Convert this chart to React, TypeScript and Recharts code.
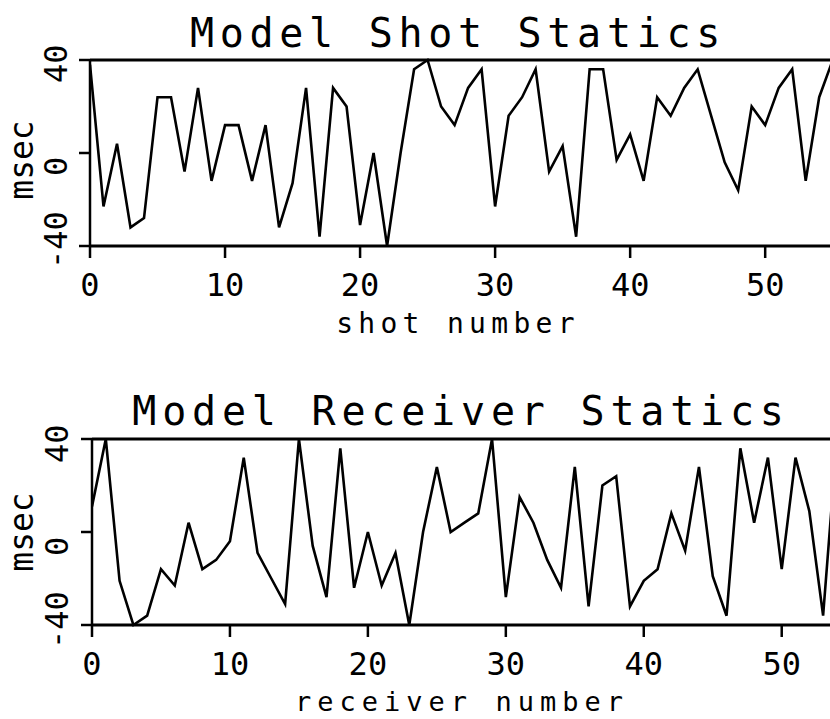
import React from 'react';
import { Line, LineChart, ReferenceLine, XAxis, YAxis } from 'recharts';

// values, one per shot / receiver, starting at 0
const shotStatics = [
  38, -23, 4, -32, -28, 24, 24, -8, 28, -12, 12, 12, -12, 12, -32, -13, 28, -36, 28, 20, -31, 0,
  -40, 0, 36, 40, 20, 12, 28, 36, -23, 16, 24, 36, -8, 3, -36, 36, 36, -3, 8, -12, 24, 16, 28,
  36, 16, -4, -16, 20, 12, 28, 36, -12, 24, 40,
];
const receiverStatics = [
  11, 40, -21, -40, -36, -16, -23, 4, -16, -12, -4, 32, -9, -20, -31, 40, -6, -28, 36, -24, 0,
  -23, -9, -40, 0, 28, 0, 4, 8, 40, -28, 15, 4, -12, -24, 28, -32, 20, 24, -32, -21, -16, 8, -8,
  28, -19, -36, 36, 4, 32, -16, 32, 9, -36, 40,
];
const xTicks = [0, 10, 20, 30, 40, 50];
const yTicks = [-40, 0, 40];

const FONT = '"DejaVu Sans Mono", monospace';
const PLOT_H = 186;

interface PanelProps {
  values: number[];
  height: number;
  marginTop: number;
  plotLeft: number;
  xMax: number;
  tickBaseline: number;
  yLabelX: number;
  yLabelShift: number;
}

const StaticsPanel: React.FC<PanelProps> = ({
  values,
  height,
  marginTop,
  plotLeft,
  xMax,
  tickBaseline,
  yLabelX,
  yLabelShift,
}) => {
  const data = values.map((v, n) => ({ n, v }));
  const renderXTick = (p: any) => (
    <text x={p.x} y={tickBaseline} textAnchor="middle" fontFamily={FONT} fontSize={32} fill="#000">
      {p.payload.value}
    </text>
  );
  const renderYTick = (p: any) => {
    const y0 = p.y + yLabelShift;
    return (
      <text
        x={yLabelX}
        y={y0}
        transform={`rotate(-90 ${yLabelX} ${y0})`}
        textAnchor="start"
        fontFamily={FONT}
        fontSize={32}
        fill="#000"
      >
        {p.payload.value}
      </text>
    );
  };
  return (
    <LineChart
      width={830}
      height={height}
      data={data}
      margin={{ top: marginTop, right: 0, bottom: 0, left: 0 }}
    >
      <XAxis
        type="number"
        dataKey="n"
        domain={[0, xMax]}
        allowDataOverflow
        ticks={xTicks}
        interval={0}
        tickSize={12}
        tickLine={{ stroke: '#000', strokeWidth: 2.5 }}
        axisLine={false}
        tick={renderXTick}
        height={height - marginTop - PLOT_H}
      />
      <YAxis
        type="number"
        domain={[-40, 40]}
        ticks={yTicks}
        interval={0}
        tickSize={11}
        tickLine={{ stroke: '#000', strokeWidth: 2.5 }}
        axisLine={{ stroke: '#000', strokeWidth: 2.5 }}
        tick={renderYTick}
        width={plotLeft}
      />
      <ReferenceLine y={40} stroke="#000" strokeWidth={3} />
      <ReferenceLine y={-40} stroke="#000" strokeWidth={3} />
      <Line
        type="linear"
        dataKey="v"
        stroke="#000"
        strokeWidth={2.6}
        dot={false}
        isAnimationActive={false}
      />
    </LineChart>
  );
};

const textStyle = { fontFamily: FONT, fill: '#000' };

export default function App() {
  return (
    <div style={{ position: 'absolute', left: 0, top: 0, width: 830, height: 719, background: '#fff', overflow: 'hidden' }}>
      <div style={{ position: 'absolute', left: 0, top: 0 }}>
        <StaticsPanel
          values={shotStatics}
          height={340}
          marginTop={60}
          plotLeft={90}
          xMax={54.8}
          tickBaseline={296}
          yLabelX={67}
          yLabelShift={23}
        />
      </div>
      <div style={{ position: 'absolute', left: 0, top: 340 }}>
        <StaticsPanel
          values={receiverStatics}
          height={379}
          marginTop={99}
          plotLeft={92}
          xMax={53.5}
          tickBaseline={335}
          yLabelX={68}
          yLabelShift={24}
        />
      </div>
      {/* titles and axis labels */}
      <svg
        width={830}
        height={719}
        style={{ position: 'absolute', left: 0, top: 0, pointerEvents: 'none' }}
      >
        <text x={458} y={47} textAnchor="middle" fontSize={40} letterSpacing={5.7} style={textStyle}>
          Model Shot Statics
        </text>
        <text x={461} y={425} textAnchor="middle" fontSize={40} letterSpacing={5.8} style={textStyle}>
          Model Receiver Statics
        </text>
        <text x={458} y={333} textAnchor="middle" fontSize={28} letterSpacing={5.3} style={textStyle}>
          shot number
        </text>
        <text x={462} y={711} textAnchor="middle" fontSize={27} letterSpacing={6} style={textStyle}>
          receiver number
        </text>
        <text x={33} y={160} transform="rotate(-90 33 160)" textAnchor="middle" fontSize={33} style={textStyle}>
          msec
        </text>
        <text x={33} y={532} transform="rotate(-90 33 532)" textAnchor="middle" fontSize={33} style={textStyle}>
          msec
        </text>
      </svg>
    </div>
  );
}
